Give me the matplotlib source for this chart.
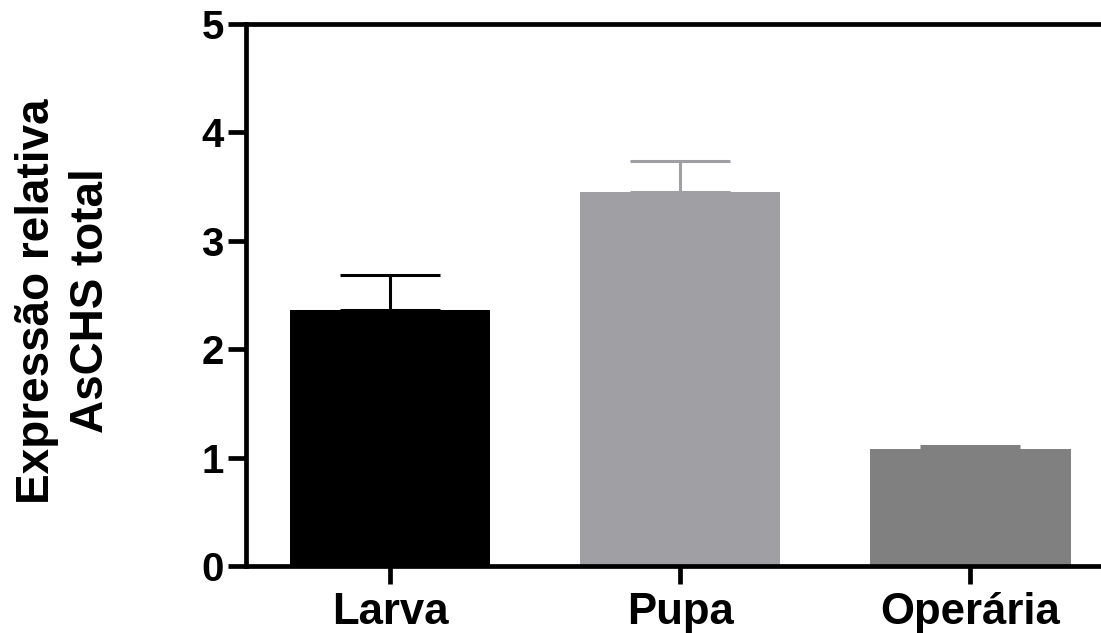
import numpy as np
from matplotlib import pyplot as plt

plt.rcParams['font.family'] = ['Liberation Sans', 'DejaVu Sans']
plt.rcParams['font.weight'] = 'bold'

# relative expression of AsCHS by stage
stages = ['Larva', 'Pupa', 'Operária']
means = [2.36, 3.45, 1.08]
sems = [0.32, 0.29, 0.03]
colors = ['#000000', '#a09fa4', '#808080']

fig = plt.figure(figsize=(11.01, 6.33), dpi=100)
ax = fig.add_axes([246 / 1101, 67 / 633, 855 / 1101, 542 / 633])

x = np.arange(len(stages))
ax.bar(x, means, width=0.69, color=colors, zorder=2)
for i in range(len(stages)):
    ax.errorbar(x[i], means[i], yerr=[[0], [sems[i]]], fmt='none',
                ecolor=colors[i], elinewidth=2.2, capsize=36, capthick=2.2,
                zorder=1)

ax.set_xlim(-0.497, 2.45)
ax.set_ylim(0, 5)
ax.set_yticks(range(6))
ax.set_xticks(x)
ax.set_xticklabels(stages)

for s in ['left', 'bottom', 'top']:
    ax.spines[s].set_linewidth(3.4)
ax.spines['right'].set_visible(False)

ax.tick_params(axis='both', width=3.4, length=13)
ax.tick_params(axis='y', labelsize=29, pad=3)
ax.tick_params(axis='x', labelsize=31.5, pad=6)

ax.set_ylabel('Expressão relativa\nAsCHS total', fontsize=33,
              fontweight='bold', linespacing=1.3)
ax.yaxis.set_label_coords(-0.155, 0.489)

plt.savefig('out.png', dpi=100)
